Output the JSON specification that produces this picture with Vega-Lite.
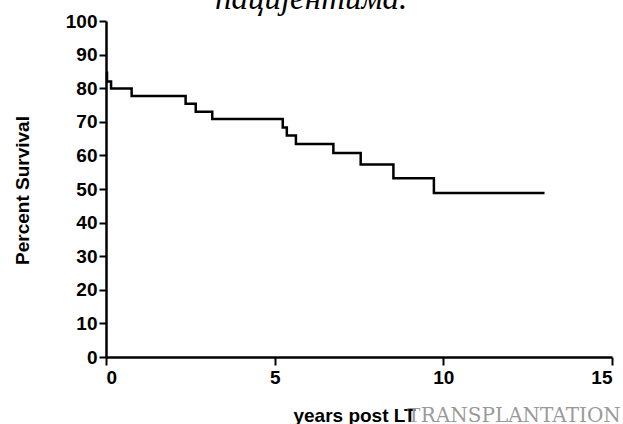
{
  "$schema": "https://vega.github.io/schema/vega-lite/v6.json",
  "width": 506,
  "height": 336,
  "autosize": "none",
  "padding": {"left": 106, "top": 21, "right": 11, "bottom": 67},
  "background": "white",
  "resolve": {"axis": {"x": "independent", "y": "independent"}},
  "config": {
    "view": {"stroke": null},
    "axis": {
      "grid": false,
      "domainColor": "black",
      "domainWidth": 2.5,
      "tickColor": "black",
      "tickWidth": 2,
      "tickSize": 7,
      "labelFont": "Liberation Sans",
      "labelFontWeight": "bold",
      "labelFontSize": 19,
      "labelColor": "black",
      "labelPadding": 2,
      "labelOverlap": false,
      "titleFont": "Liberation Sans",
      "titleFontWeight": "bold",
      "titleFontSize": 19,
      "titleColor": "black"
    }
  },
  "layer": [
    {
      "data": {
        "values": [
          {"years": 0, "survival": 84.6},
          {"years": 0.03, "survival": 82.0},
          {"years": 0.15, "survival": 79.9},
          {"years": 0.76, "survival": 77.7},
          {"years": 2.36, "survival": 75.4},
          {"years": 2.66, "survival": 73.0},
          {"years": 3.15, "survival": 70.8},
          {"years": 5.24, "survival": 68.3},
          {"years": 5.36, "survival": 65.9},
          {"years": 5.63, "survival": 63.4},
          {"years": 6.74, "survival": 60.7},
          {"years": 7.55, "survival": 57.3},
          {"years": 8.52, "survival": 53.2},
          {"years": 9.72, "survival": 48.8},
          {"years": 13.0, "survival": 48.8}
        ]
      },
      "mark": {"type": "line", "interpolate": "step-after", "color": "black", "strokeWidth": 2.5},
      "encoding": {
        "x": {
          "field": "years",
          "type": "quantitative",
          "scale": {"domain": [0, 15], "nice": false},
          "axis": {
            "values": [0, 5, 10, 15],
            "title": "years post LT",
            "titleX": 248,
            "titleY": 64,
            "titleAlign": "center",
            "titleBaseline": "alphabetic",
            "tickSize": 8,
            "labelPadding": 3
          }
        },
        "y": {
          "field": "survival",
          "type": "quantitative",
          "scale": {"domain": [0, 100], "nice": false},
          "axis": {
            "values": [0, 10, 20, 30, 40, 50, 60, 70, 80, 90, 100],
            "title": "Percent Survival",
            "titleX": -84,
            "titleY": 169,
            "titleAlign": "center",
            "titleBaseline": "middle",
            "titleAngle": 270
          }
        }
      }
    },
    {
      "data": {"values": [{}]},
      "mark": {"type": "text", "font": "Liberation Serif", "fontStyle": "italic", "fontSize": 33, "color": "black", "align": "center", "baseline": "alphabetic"},
      "encoding": {
        "x": {"datum": 6.08, "type": "quantitative", "axis": null},
        "y": {"datum": 103.6, "type": "quantitative", "axis": null},
        "text": {"value": "пацијентима."}
      }
    },
    {
      "data": {"values": [{}]},
      "mark": {"type": "text", "font": "Liberation Serif", "fontSize": 22, "color": "#9a9a9a", "align": "left", "baseline": "alphabetic"},
      "encoding": {
        "x": {"datum": 8.92, "type": "quantitative", "axis": null},
        "y": {"datum": -19.3, "type": "quantitative", "axis": null},
        "text": {"value": "T"}
      }
    },
    {
      "data": {"values": [{}]},
      "mark": {"type": "text", "font": "DejaVu Serif", "fontSize": 20, "color": "#9a9a9a", "align": "left", "baseline": "alphabetic"},
      "encoding": {
        "x": {"datum": 9.33, "type": "quantitative", "axis": null},
        "y": {"datum": -19.3, "type": "quantitative", "axis": null},
        "text": {"value": "RANSPLANTATION"}
      }
    }
  ]
}
